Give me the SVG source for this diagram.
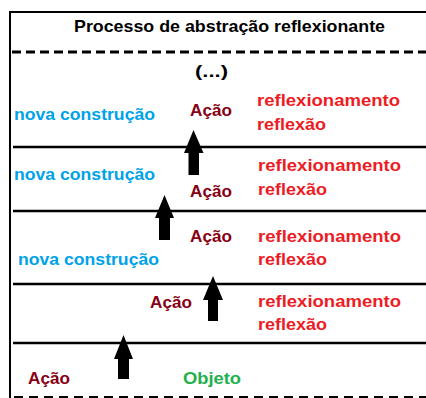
<svg xmlns="http://www.w3.org/2000/svg" width="426" height="398" viewBox="0 0 426 398">
<style>
text{font-family:"Liberation Sans",Arial,sans-serif;font-weight:bold;font-size:17px}
.t{fill:#000}
.b{fill:#00A2E8}
.a{fill:#880015}
.r{fill:#ED1C24}
.g{fill:#22B14C}
.ln{stroke:#000;stroke-width:2.5;fill:none}
.arr{fill:#000}
</style>
<rect width="426" height="398" fill="#fff"/>
<g id="frame">
<path d="M10 398 V12 H426" stroke="#000" stroke-width="2" fill="none"/>
<line x1="12" y1="52" x2="426" y2="52" stroke="#000" stroke-width="3" stroke-dasharray="9 5"/>
<line x1="14" y1="397" x2="426" y2="397" stroke="#000" stroke-width="2" stroke-dasharray="9 6"/>
<line class="ln" x1="13" y1="147" x2="426" y2="147"/>
<line class="ln" x1="13" y1="211" x2="426" y2="211"/>
<line class="ln" x1="13" y1="284" x2="426" y2="284"/>
<line class="ln" x1="13" y1="343" x2="426" y2="343"/>
</g>
<g id="title"><text class="t" x="229.5" y="32" text-anchor="middle" textLength="311" lengthAdjust="spacingAndGlyphs">Processo de abstração reflexionante</text></g>
<g id="ellipsis"><text class="t" x="211.5" y="77" text-anchor="middle" textLength="33" lengthAdjust="spacingAndGlyphs">(...)</text></g>
<g id="level1">
<text class="b" x="14" y="120" textLength="141" lengthAdjust="spacingAndGlyphs">nova construção</text>
<text class="a" x="190" y="116" textLength="42" lengthAdjust="spacingAndGlyphs">Ação</text>
<text class="r" x="257" y="106" textLength="143" lengthAdjust="spacingAndGlyphs">reflexionamento</text>
<text class="r" x="257" y="130" textLength="69" lengthAdjust="spacingAndGlyphs">reflexão</text>
</g>
<g id="level2">
<text class="b" x="14" y="180" textLength="141" lengthAdjust="spacingAndGlyphs">nova construção</text>
<text class="a" x="190" y="197" textLength="42" lengthAdjust="spacingAndGlyphs">Ação</text>
<text class="r" x="258" y="171" textLength="143" lengthAdjust="spacingAndGlyphs">reflexionamento</text>
<text class="r" x="258" y="195" textLength="69" lengthAdjust="spacingAndGlyphs">reflexão</text>
</g>
<g id="level3">
<text class="b" x="18" y="265" textLength="141" lengthAdjust="spacingAndGlyphs">nova construção</text>
<text class="a" x="190" y="242" textLength="42" lengthAdjust="spacingAndGlyphs">Ação</text>
<text class="r" x="258" y="242" textLength="143" lengthAdjust="spacingAndGlyphs">reflexionamento</text>
<text class="r" x="258" y="265" textLength="69" lengthAdjust="spacingAndGlyphs">reflexão</text>
</g>
<g id="level4">
<text class="a" x="150" y="308" textLength="42" lengthAdjust="spacingAndGlyphs">Ação</text>
<text class="r" x="258" y="307" textLength="143" lengthAdjust="spacingAndGlyphs">reflexionamento</text>
<text class="r" x="258" y="330" textLength="69" lengthAdjust="spacingAndGlyphs">reflexão</text>
</g>
<g id="base">
<text class="a" x="28" y="384" textLength="42" lengthAdjust="spacingAndGlyphs">Ação</text>
<text class="g" x="183" y="384" textLength="58" lengthAdjust="spacingAndGlyphs">Objeto</text>
</g>
<g id="connectors">
<polygon class="arr" points="193.5,130 203.5,153 199,153 199,175 188.5,175 188.5,153 184,153"/>
<polygon class="arr" points="164.5,195 174,218 170,218 170,240 159,240 159,218 155,218"/>
<polygon class="arr" points="213,276 223,300 218,300 218,321 208,321 208,300 203,300"/>
<polygon class="arr" points="123.5,335 133,359 129,359 129,379 118,379 118,359 114,359"/>
</g>
</svg>
